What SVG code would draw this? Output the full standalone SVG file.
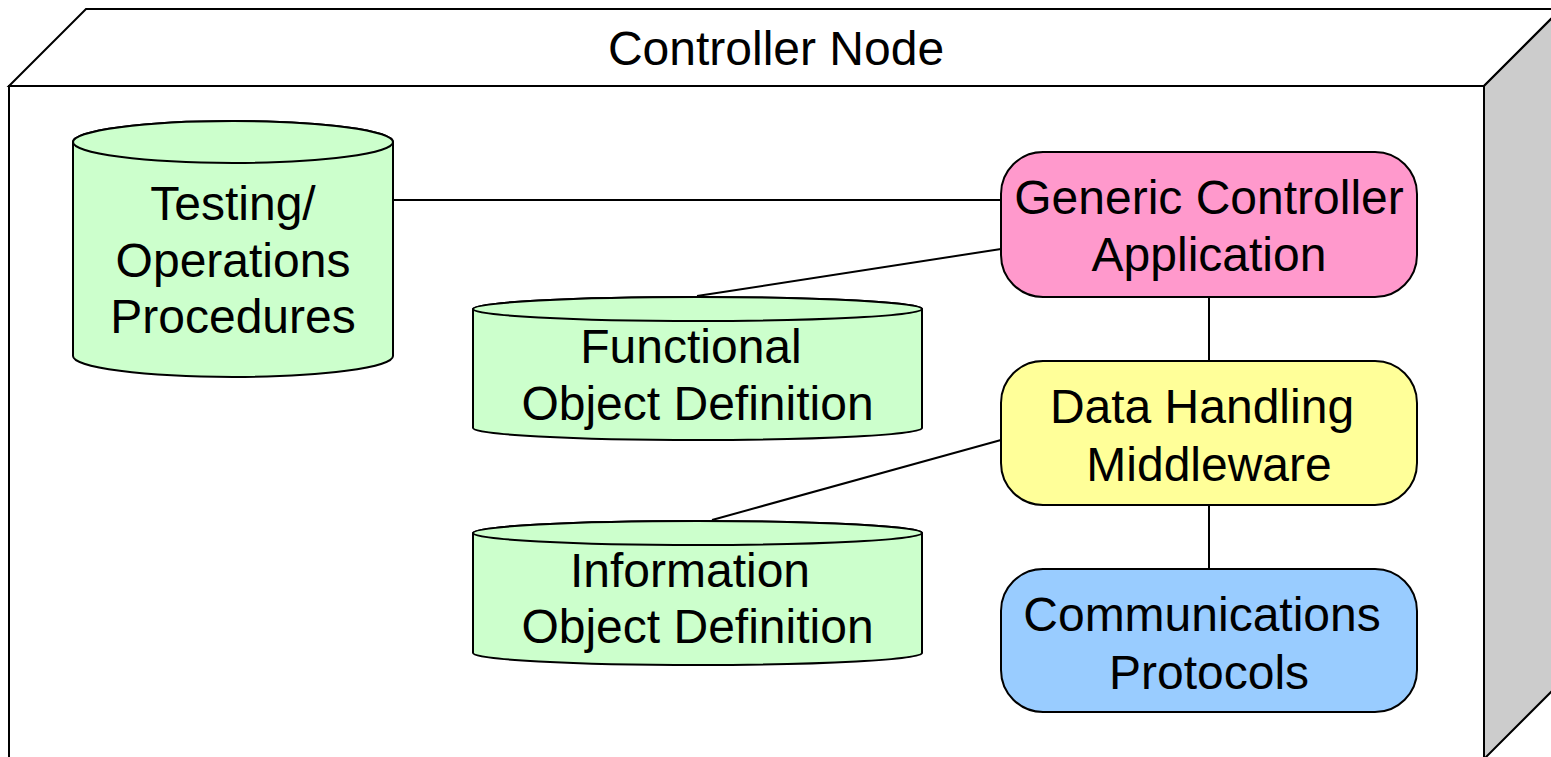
<svg xmlns="http://www.w3.org/2000/svg" width="1551" height="757" viewBox="0 0 1551 757">
  <style>
    .edge { stroke: #000; stroke-width: 2; fill: none; }
    .outline { stroke: #000; stroke-width: 2; }
    .store { fill: #CCFFCC; stroke: #000; stroke-width: 2; }
    .label { font-family: "Liberation Sans", Arial, sans-serif; font-size: 48px; fill: #000; text-anchor: middle; }
  </style>

  <!-- Controller node drawn as a 3D box -->
  <g id="controller-node">
    <polygon class="outline" fill="#FFFFFF" points="9,86 86,9 1561,9 1484,86"/>
    <polygon class="outline" fill="#CCCCCC" points="1484,86 1561,9 1561,682 1484,759"/>
    <rect class="outline" fill="#FFFFFF" x="9" y="86" width="1475" height="680"/>
    <text class="label" x="776" y="65">Controller Node</text>
  </g>

  <!-- Connectors -->
  <g id="connectors">
    <line class="edge" x1="393" y1="200" x2="1001" y2="200"/>
    <line class="edge" x1="697" y1="296" x2="1001" y2="249"/>
    <line class="edge" x1="712" y1="520" x2="1001" y2="440"/>
    <line class="edge" x1="1209" y1="297" x2="1209" y2="361"/>
    <line class="edge" x1="1209" y1="505" x2="1209" y2="569"/>
  </g>

  <!-- Data stores -->
  <g id="testing-operations-procedures">
    <path class="store" d="M73,142 L73,356 A160,21 0 0 0 393,356 L393,142 A160,21 0 0 0 73,142 Z"/>
    <ellipse class="store" cx="233" cy="142" rx="160" ry="21"/>
    <text class="label" x="233" y="220">Testing/</text>
    <text class="label" x="233" y="277">Operations</text>
    <text class="label" x="233" y="333">Procedures</text>
  </g>

  <g id="functional-object-definition">
    <path class="store" d="M473,309 L473,428 A224.5,12 0 0 0 922,428 L922,309 A224.5,12 0 0 0 473,309 Z"/>
    <ellipse class="store" cx="697.5" cy="309" rx="224.5" ry="12"/>
    <text class="label" x="691" y="363">Functional</text>
    <text class="label" x="697.5" y="420">Object Definition</text>
  </g>

  <g id="information-object-definition">
    <path class="store" d="M473,533 L473,653 A224.5,12 0 0 0 922,653 L922,533 A224.5,12 0 0 0 473,533 Z"/>
    <ellipse class="store" cx="697.5" cy="533" rx="224.5" ry="12"/>
    <text class="label" x="690" y="587">Information</text>
    <text class="label" x="697.5" y="643">Object Definition</text>
  </g>

  <!-- Software components -->
  <g id="generic-controller-application">
    <rect class="outline" fill="#FF99CC" x="1001" y="152" width="416" height="145" rx="42" ry="42"/>
    <text class="label" x="1209" y="214">Generic Controller</text>
    <text class="label" x="1209" y="271">Application</text>
  </g>

  <g id="data-handling-middleware">
    <rect class="outline" fill="#FFFF99" x="1001" y="361" width="416" height="144" rx="42" ry="42"/>
    <text class="label" x="1202" y="423">Data Handling</text>
    <text class="label" x="1209" y="481">Middleware</text>
  </g>

  <g id="communications-protocols">
    <rect class="outline" fill="#99CCFF" x="1001" y="569" width="416" height="143" rx="42" ry="42"/>
    <text class="label" x="1202" y="631">Communications</text>
    <text class="label" x="1209" y="689">Protocols</text>
  </g>
</svg>
